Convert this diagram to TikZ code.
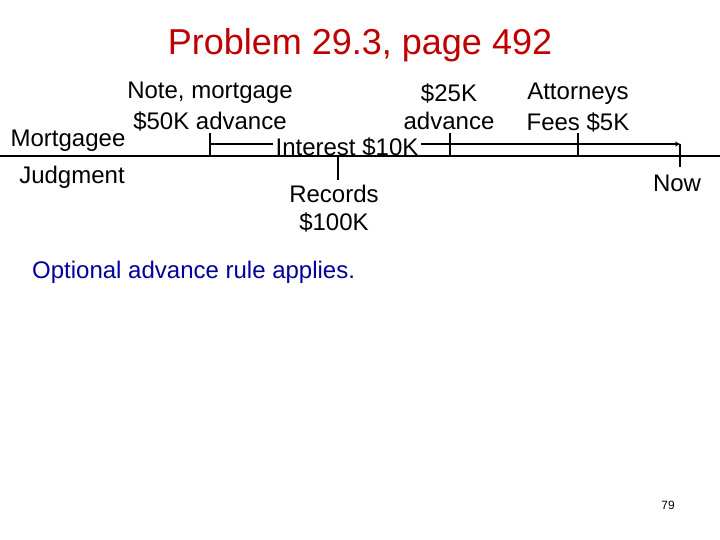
\documentclass[tikz,border=0pt]{standalone}
\usepackage{fontspec}
\setmainfont{Liberation Sans}
\begin{document}
\begin{tikzpicture}[x=1pt,y=-1pt,
  txt/.style={inner sep=0pt,font=\fontsize{24}{28}\selectfont},
  ln/.style={line width=1.2pt},
  tk/.style={line width=2pt}]
\useasboundingbox (0,0) rectangle (720,540);
\node[inner sep=0pt,text=red!75!black,font=\fontsize{36}{42}\selectfont] (title) at (360,45) {Problem 29.3, page 492};
\node[txt] (n1) at (210,93) {Note, mortgage};
\node[txt] (n2) at (210,121) {\$50K advance};
\node[txt] (a1) at (449,93) {\$25K};
\node[txt] (a2) at (449,121) {advance};
\node[txt] (f1) at (578,94) {Attorneys};
\node[txt] (f2) at (578,122) {Fees \$5K};
\node[txt] (mg) at (68,141) {Mortgagee};
\node[txt] (jd) at (72,177) {Judgment};
\node[txt,fill=white,inner xsep=2pt] (int) at (347,147) {Interest \$10K};
\node[txt] (r1) at (334,194) {Records};
\node[txt] (r2) at (334,222) {\$100K};
\node[txt] (now) at (677,183) {Now};
\node[inner sep=0pt,anchor=west,text=blue!60!black,font=\fontsize{24}{28}\selectfont] (opt) at (32,272) {Optional advance rule applies.};
\node[inner sep=0pt,font=\fontsize{12}{14}\selectfont] (pg) at (668,505) {79};
\coordinate (L0) at (0,156);
\coordinate (L1) at (720,156);
\draw[ln] (L0) -- (L1);
\coordinate (s) at (210,144);
\coordinate (e) at (680,144);
\draw[ln] (s) -- (int.west |- s);
\draw[ln,-stealth] (int.east |- e) -- (e);
\foreach \x in {210,450,578}{\draw[tk] (\x,133) -- (\x,156);}
\draw[tk] (680,144) -- (680,167);
\draw[tk] (338,157) -- (338,180);
\end{tikzpicture}
\end{document}
